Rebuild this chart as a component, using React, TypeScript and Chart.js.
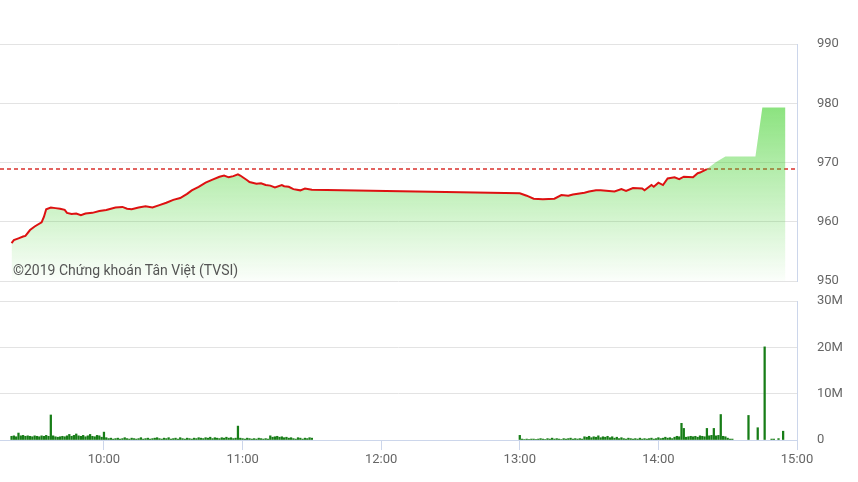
import React, { useEffect, useRef } from "react";
import { Chart, registerables } from "chart.js";

Chart.register(...registerables);

// ---------- data ----------
const axisStart = "09:15";
const axisEnd = "15:00";
const hourTicks = ["10:00", "11:00", "12:00", "13:00", "14:00", "15:00"];
const priceTicks = [950, 960, 970, 980, 990];
const volumeTicks = [0, 10, 20, 30]; // millions
const refPrice = 968.9;
const watermark = "©2019 Chứng khoán Tân Việt (TVSI)";

const priceTimes = [
  "09:20", "09:21", "09:23", "09:25", "09:26", "09:28", "09:30", "09:33", "09:34", "09:35",
  "09:37", "09:39", "09:41", "09:43", "09:44", "09:46", "09:48", "09:50", "09:52", "09:55",
  "09:58", "10:01", "10:03", "10:05", "10:08", "10:10", "10:12", "10:15", "10:18", "10:21",
  "10:24", "10:27", "10:30", "10:33", "10:36", "10:38", "10:41", "10:44", "10:47", "10:50",
  "10:52", "10:54", "10:56", "10:58", "10:59", "11:02", "11:03", "11:06", "11:08", "11:10",
  "11:12", "11:14", "11:17", "11:18", "11:20", "11:22", "11:25", "11:27", "11:30",
  "13:00", "13:03", "13:06", "13:10", "13:15", "13:18", "13:21", "13:23", "13:28", "13:30",
  "13:33", "13:35", "13:41", "13:44", "13:46", "13:49", "13:53", "13:54", "13:57", "13:58",
  "14:00", "14:02", "14:04", "14:07", "14:09", "14:11", "14:15", "14:17", "14:18", "14:21",
];
const priceValues = [
  956.4, 956.9, 957.2, 957.5, 957.6, 958.6, 959.2, 959.9, 960.8, 962.1,
  962.4, 962.3, 962.2, 962.0, 961.5, 961.3, 961.4, 961.1, 961.4, 961.5,
  961.8, 962.0, 962.2, 962.4, 962.5, 962.2, 962.1, 962.4, 962.6, 962.4,
  962.8, 963.2, 963.7, 964.0, 964.7, 965.3, 965.9, 966.6, 967.1, 967.6,
  967.8, 967.5, 967.7, 968.0, 967.8, 967.0, 966.7, 966.4, 966.5, 966.2,
  966.1, 965.8, 966.2, 966.0, 965.9, 965.5, 965.3, 965.6, 965.4,
  964.8, 964.4, 963.9, 963.8, 963.9, 964.5, 964.4, 964.6, 964.9, 965.1,
  965.3, 965.3, 965.1, 965.5, 965.2, 965.7, 965.6, 965.3, 966.2, 965.9,
  966.6, 966.2, 967.3, 967.5, 967.2, 967.6, 967.5, 968.2, 968.3, 968.9,
];
// closing session (area only, no line)
const closeTimes = ["14:25", "14:29", "14:42", "14:45", "14:55"];
const closeValues = [970.1, 971.0, 971.0, 979.3, 979.3];

// volume per minute, millions
const morningStart = "09:20";
const morningVolumes = [
  0.8, 0.9, 0.7, 1.5, 0.9, 1.0, 0.8, 0.9, 0.8, 0.7,
  0.9, 0.8, 0.7, 0.9, 0.8, 1.0, 0.8, 5.4, 0.9, 0.7,
  0.6, 0.7, 0.8, 0.7, 0.9, 1.2, 0.8, 1.0, 1.3, 0.9,
  0.8, 1.0, 0.7, 0.9, 1.2, 0.8, 0.7, 1.0, 0.9, 0.6,
  1.7, 0.5, 0.3, 0.4, 0.2, 0.3, 0.4, 0.2, 0.3, 0.5,
  0.3, 0.2, 0.4, 0.3, 0.2, 0.3, 0.5, 0.2, 0.3, 0.4,
  0.2, 0.3, 0.4, 0.5, 0.3, 0.2, 0.4, 0.3, 0.5, 0.2,
  0.3, 0.4, 0.2, 0.5, 0.3, 0.2, 0.4, 0.3, 0.2, 0.4,
  0.3, 0.5, 0.4, 0.3, 0.5, 0.4, 0.6, 0.3, 0.5, 0.4,
  0.3, 0.5, 0.4, 0.6, 0.4, 0.5, 0.3, 0.4, 3.0, 0.4,
  0.3, 0.2, 0.4, 0.3, 0.2, 0.3, 0.2, 0.4, 0.3, 0.2,
  0.3, 0.2, 0.9, 0.6, 0.7, 0.8, 0.6, 0.7, 0.5, 0.6,
  0.4, 0.5, 0.3, 0.2, 0.5, 0.4, 0.2, 0.4, 0.3, 0.5,
  0.4,
];
const afternoonStart = "13:00";
const afternoonVolumes = [
  1.0, 0.2, 0.1, 0.2, 0.1, 0.2, 0.2, 0.1, 0.2, 0.3,
  0.2, 0.1, 0.3, 0.2, 0.4, 0.2, 0.3, 0.2, 0.1, 0.3,
  0.2, 0.3, 0.4, 0.2, 0.3, 0.2, 0.3, 0.2, 0.7, 0.6,
  0.8, 0.5, 0.7, 0.6, 0.9, 0.5, 0.7, 0.6, 0.8, 0.5,
  0.7, 0.4, 0.6, 0.3, 0.5, 0.3, 0.2, 0.4, 0.3, 0.2,
  0.3, 0.2, 0.4, 0.2, 0.3, 0.2, 0.3, 0.4, 0.2, 0.3,
  0.5, 0.3, 0.4, 0.6, 0.4, 0.5, 0.3, 0.6, 0.8, 0.7,
  3.6, 2.5, 0.6, 0.7, 0.8, 0.7, 0.8, 0.6, 0.9, 0.8,
  0.7, 2.5, 0.9, 1.0, 2.5, 0.9, 1.0, 5.5, 0.8, 0.7,
  0.4, 0.2, 0.2,
];
const lateVolumeTimes = ["14:39", "14:43", "14:46", "14:49", "14:50", "14:52", "14:54"];
const lateVolumes = [5.3, 2.65, 20.1, 0.2, 0.2, 0.3, 1.9];

// ---------- helpers ----------
const toMin = (s: string) => {
  const [h, m] = s.split(":").map(Number);
  return h * 60 + m;
};
const fmtMin = (v: number) => `${Math.floor(v / 60)}:${String(v % 60).padStart(2, "0")}`;

const FONT = "Roboto";
const LABEL_COLOR = "#666666";
const GRID_COLOR = "#e3e3e3";
const AXIS_COLOR = "#ccd6eb";

const pricePoints = priceTimes.map((t, i) => ({ x: toMin(t), y: priceValues[i] }));
const areaPoints = pricePoints.concat(closeTimes.map((t, i) => ({ x: toMin(t), y: closeValues[i] })));
const volumePoints = [
  ...morningVolumes.map((v, i) => ({ x: toMin(morningStart) + i, y: v })),
  ...afternoonVolumes.map((v, i) => ({ x: toMin(afternoonStart) + i, y: v })),
  ...lateVolumeTimes.map((t, i) => ({ x: toMin(t), y: lateVolumes[i] })),
];

const xBase = (display: boolean) => ({
  type: "linear" as const,
  min: toMin(axisStart),
  max: toMin(axisEnd),
  display,
  offset: false,
  afterBuildTicks: (scale: any) => {
    scale.ticks = hourTicks.map((t) => ({ value: toMin(t) }));
  },
  afterFit: (scale: any) => {
    if (display) scale.height = 30;
    scale.paddingLeft = 0;
    scale.paddingRight = 0;
  },
  grid: {
    offset: false,
    drawOnChartArea: false,
    drawTicks: true,
    tickLength: 10,
    color: AXIS_COLOR,
  },
  border: { display: true, color: AXIS_COLOR, width: 1 },
  ticks: {
    padding: 2,
    color: LABEL_COLOR,
    font: { family: FONT, size: 13 },
    maxRotation: 0,
    autoSkip: false,
    callback: (v: any) => fmtMin(Number(v)),
  },
});

const yRight = (min: number, max: number, ticks: number[], fmt: (v: number) => string) => ({
  type: "linear" as const,
  position: "right" as const,
  min,
  max,
  afterBuildTicks: (scale: any) => {
    scale.ticks = ticks.map((v) => ({ value: v }));
  },
  afterFit: (scale: any) => {
    scale.width = 61;
    scale.paddingTop = 0;
    scale.paddingBottom = 0;
  },
  grid: { color: GRID_COLOR, lineWidth: 1, drawTicks: false },
  border: { display: true, color: AXIS_COLOR, width: 1 },
  ticks: {
    padding: 20,
    color: LABEL_COLOR,
    font: { family: FONT, size: 13 },
    callback: (v: any) => fmt(Number(v)),
  },
});

export default function App() {
  const topRef = useRef<HTMLCanvasElement>(null);
  const botRef = useRef<HTMLCanvasElement>(null);

  useEffect(() => {
    const top = new Chart(topRef.current!, {
      type: "line",
      data: {
        datasets: [
          {
            label: "ref",
            data: [
              { x: toMin(axisStart), y: refPrice },
              { x: toMin(axisEnd), y: refPrice },
            ],
            borderColor: "#d9302c",
            borderWidth: 1.6,
            borderDash: [4, 3],
            pointRadius: 0,
            fill: false,
            order: 3,
          },
          {
            label: "area",
            data: areaPoints,
            borderWidth: 0,
            borderColor: "rgba(0,0,0,0)",
            pointRadius: 0,
            tension: 0,
            fill: "start",
            backgroundColor: (ctx: any) => {
              const { chart } = ctx;
              const area = chart.chartArea;
              if (!area) return "rgba(70,210,50,0.4)";
              const g = chart.ctx.createLinearGradient(0, area.top, 0, area.bottom);
              g.addColorStop(0, "rgba(70,210,50,0.8)");
              g.addColorStop(0.27, "rgba(70,210,50,0.62)");
              g.addColorStop(1, "rgba(70,210,50,0.02)");
              return g;
            },
            order: 2,
          },
          {
            label: "price",
            data: pricePoints,
            borderColor: "#dd1111",
            borderWidth: 2,
            pointRadius: 0,
            tension: 0,
            fill: false,
            order: 1,
          },
        ],
      },
      options: {
        animation: false,
        responsive: false,
        devicePixelRatio: 1,
        layout: { padding: { top: 44, bottom: 9, left: 0, right: 0 } },
        plugins: { legend: { display: false }, tooltip: { enabled: false } },
        scales: {
          x: xBase(false) as any,
          y: yRight(950, 990, priceTicks, (v) => String(v)) as any,
        },
      },
    });

    const bot = new Chart(botRef.current!, {
      type: "bar",
      data: {
        datasets: [
          {
            label: "volume",
            data: volumePoints,
            backgroundColor: "#177d17",
            barThickness: 1.6,
            grouped: false,
          } as any,
        ],
      },
      options: {
        animation: false,
        responsive: false,
        devicePixelRatio: 1,
        layout: { padding: { top: 11, bottom: 12, left: 0, right: 0 } },
        plugins: { legend: { display: false }, tooltip: { enabled: false } },
        scales: {
          x: xBase(true) as any,
          y: yRight(0, 30, volumeTicks, (v) => (v === 0 ? "0" : `${v}M`)) as any,
        },
      },
    });

    return () => {
      top.destroy();
      bot.destroy();
    };
  }, []);

  return (
    <div
      style={{
        position: "absolute",
        left: 0,
        top: 0,
        width: 858,
        height: 482,
        background: "#ffffff",
        overflow: "hidden",
      }}
    >
      <canvas ref={topRef} width={858} height={290} style={{ position: "absolute", left: 0, top: 0 }} />
      <canvas ref={botRef} width={858} height={192} style={{ position: "absolute", left: 0, top: 290 }} />
      <div
        style={{
          position: "absolute",
          left: 13,
          top: 262,
          fontFamily: "Roboto, sans-serif",
          fontSize: 14,
          lineHeight: "16px",
          color: "#555555",
          whiteSpace: "nowrap",
        }}
      >
        {watermark}
      </div>
    </div>
  );
}
